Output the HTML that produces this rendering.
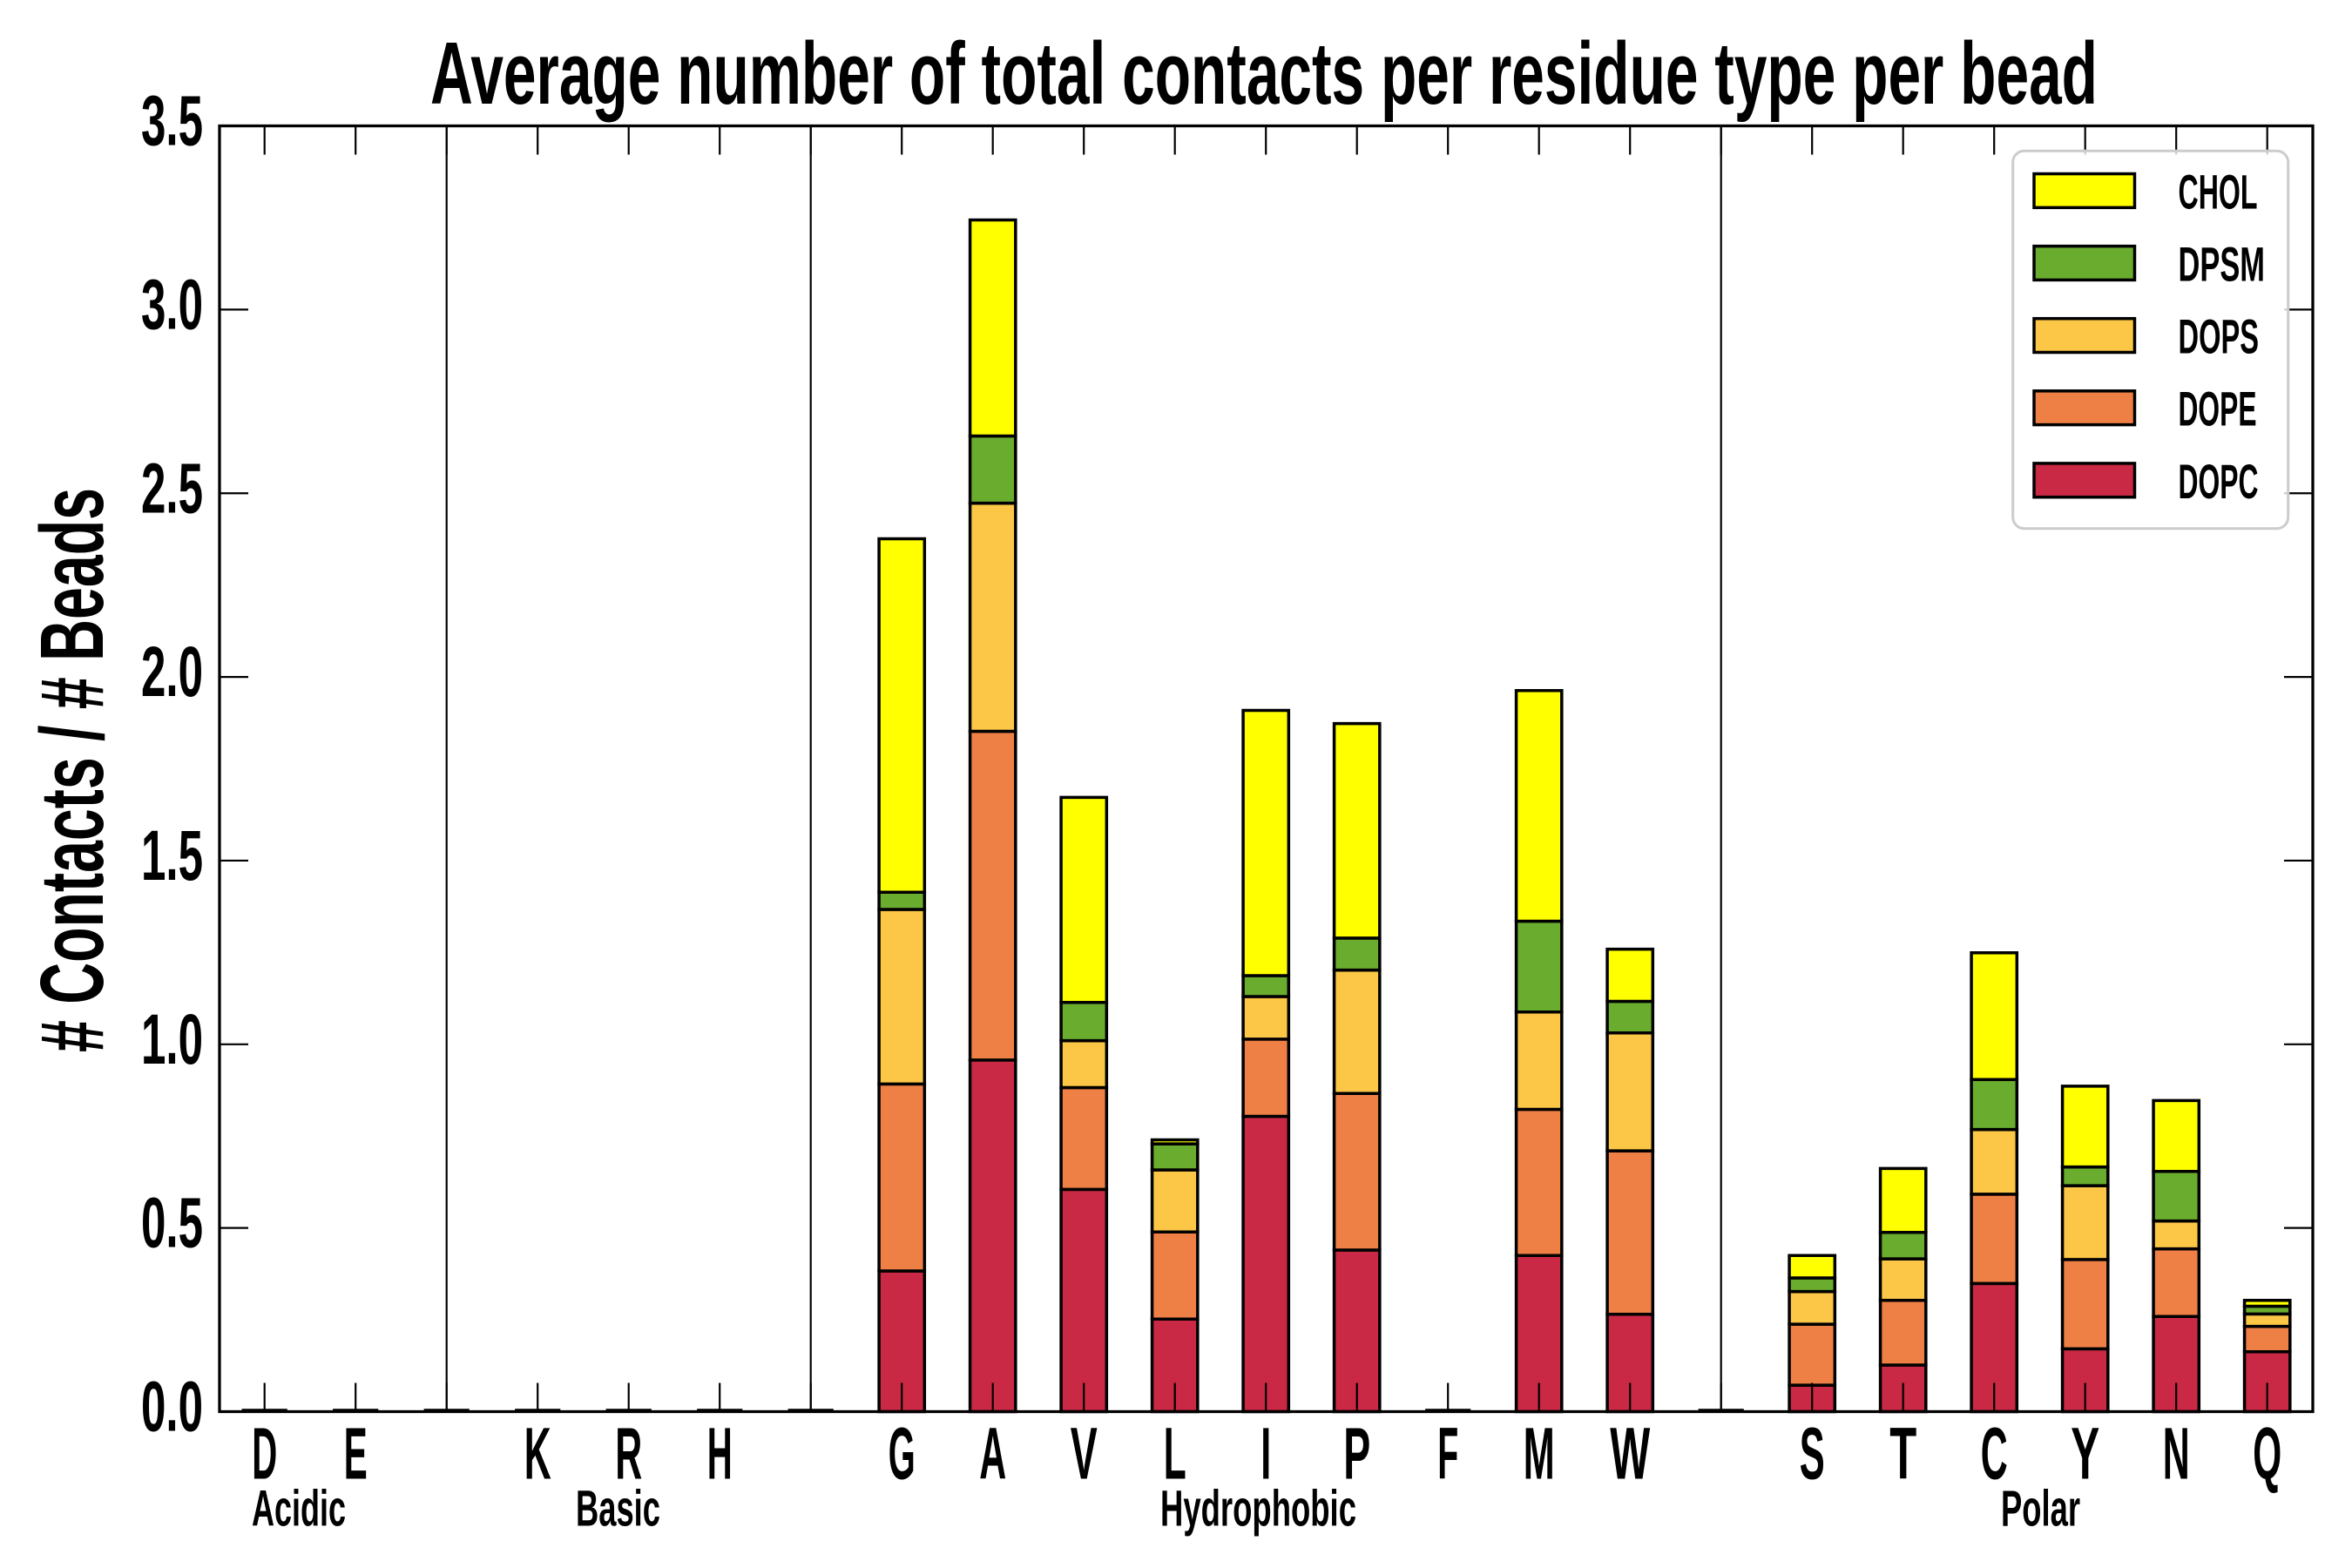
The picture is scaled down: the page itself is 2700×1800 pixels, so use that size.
<!DOCTYPE html>
<html>
<head>
<meta charset="utf-8">
<style>
  html, body { margin: 0; padding: 0; background: #ffffff; }
  svg { display: block; }
  .bars rect { vector-effect: non-scaling-stroke; stroke: #000; stroke-width: 3.5; }
  text { font-family: "Liberation Sans Narrow", "Liberation Sans", sans-serif; font-weight: bold; fill: #000; }
</style>
</head>
<body>
<svg width="2700" height="1800" viewBox="0 0 2700 1800" xmlns="http://www.w3.org/2000/svg">
  <rect x="0" y="0" width="2700" height="1800" fill="#ffffff"/>

  <!-- separators -->
  <g stroke="#000" stroke-width="2.2">
    <line x1="512.7" y1="144.5" x2="512.7" y2="1620.5"/>
    <line x1="930.7" y1="144.5" x2="930.7" y2="1620.5"/>
    <line x1="1975.7" y1="144.5" x2="1975.7" y2="1620.5"/>
  </g>

  <!-- bars (data space) -->
  <g class="bars" transform="translate(303.7 1620.5) scale(104.5 -421.7)">
    <!-- DOPC -->
    <g fill="#c92944">
      <rect x="6.75" y="0" width="0.5" height="0.383"/>
      <rect x="7.75" y="0" width="0.5" height="0.957"/>
      <rect x="8.75" y="0" width="0.5" height="0.605"/>
      <rect x="9.75" y="0" width="0.5" height="0.252"/>
      <rect x="10.75" y="0" width="0.5" height="0.804"/>
      <rect x="11.75" y="0" width="0.5" height="0.440"/>
      <rect x="13.75" y="0" width="0.5" height="0.425"/>
      <rect x="14.75" y="0" width="0.5" height="0.265"/>
      <rect x="16.75" y="0" width="0.5" height="0.072"/>
      <rect x="17.75" y="0" width="0.5" height="0.127"/>
      <rect x="18.75" y="0" width="0.5" height="0.349"/>
      <rect x="19.75" y="0" width="0.5" height="0.171"/>
      <rect x="20.75" y="0" width="0.5" height="0.259"/>
      <rect x="21.75" y="0" width="0.5" height="0.163"/>
    </g>
    <!-- DOPE -->
    <g fill="#ef8045">
      <rect x="6.75" y="0.383" width="0.5" height="0.509"/>
      <rect x="7.75" y="0.957" width="0.5" height="0.895"/>
      <rect x="8.75" y="0.605" width="0.5" height="0.277"/>
      <rect x="9.75" y="0.252" width="0.5" height="0.237"/>
      <rect x="10.75" y="0.804" width="0.5" height="0.210"/>
      <rect x="11.75" y="0.440" width="0.5" height="0.426"/>
      <rect x="13.75" y="0.425" width="0.5" height="0.398"/>
      <rect x="14.75" y="0.265" width="0.5" height="0.445"/>
      <rect x="16.75" y="0.072" width="0.5" height="0.166"/>
      <rect x="17.75" y="0.127" width="0.5" height="0.176"/>
      <rect x="18.75" y="0.349" width="0.5" height="0.243"/>
      <rect x="19.75" y="0.171" width="0.5" height="0.243"/>
      <rect x="20.75" y="0.259" width="0.5" height="0.184"/>
      <rect x="21.75" y="0.163" width="0.5" height="0.069"/>
    </g>
    <!-- DOPS -->
    <g fill="#fcc646">
      <rect x="6.75" y="0.892" width="0.5" height="0.475"/>
      <rect x="7.75" y="1.852" width="0.5" height="0.621"/>
      <rect x="8.75" y="0.882" width="0.5" height="0.128"/>
      <rect x="9.75" y="0.489" width="0.5" height="0.169"/>
      <rect x="10.75" y="1.014" width="0.5" height="0.116"/>
      <rect x="11.75" y="0.866" width="0.5" height="0.336"/>
      <rect x="13.75" y="0.823" width="0.5" height="0.265"/>
      <rect x="14.75" y="0.710" width="0.5" height="0.321"/>
      <rect x="16.75" y="0.238" width="0.5" height="0.089"/>
      <rect x="17.75" y="0.303" width="0.5" height="0.113"/>
      <rect x="18.75" y="0.592" width="0.5" height="0.176"/>
      <rect x="19.75" y="0.414" width="0.5" height="0.201"/>
      <rect x="20.75" y="0.443" width="0.5" height="0.076"/>
      <rect x="21.75" y="0.232" width="0.5" height="0.034"/>
    </g>
    <!-- DPSM -->
    <g fill="#6aac2e">
      <rect x="6.75" y="1.367" width="0.5" height="0.047"/>
      <rect x="7.75" y="2.473" width="0.5" height="0.183"/>
      <rect x="8.75" y="1.010" width="0.5" height="0.104"/>
      <rect x="9.75" y="0.658" width="0.5" height="0.071"/>
      <rect x="10.75" y="1.130" width="0.5" height="0.057"/>
      <rect x="11.75" y="1.202" width="0.5" height="0.087"/>
      <rect x="13.75" y="1.088" width="0.5" height="0.247"/>
      <rect x="14.75" y="1.031" width="0.5" height="0.086"/>
      <rect x="16.75" y="0.327" width="0.5" height="0.037"/>
      <rect x="17.75" y="0.416" width="0.5" height="0.072"/>
      <rect x="18.75" y="0.768" width="0.5" height="0.136"/>
      <rect x="19.75" y="0.615" width="0.5" height="0.051"/>
      <rect x="20.75" y="0.519" width="0.5" height="0.135"/>
      <rect x="21.75" y="0.266" width="0.5" height="0.021"/>
    </g>
    <!-- CHOL -->
    <g fill="#ffff00">
      <rect x="6.75" y="1.414" width="0.5" height="0.962"/>
      <rect x="7.75" y="2.656" width="0.5" height="0.588"/>
      <rect x="8.75" y="1.114" width="0.5" height="0.558"/>
      <rect x="9.75" y="0.729" width="0.5" height="0.011"/>
      <rect x="10.75" y="1.187" width="0.5" height="0.722"/>
      <rect x="11.75" y="1.289" width="0.5" height="0.584"/>
      <rect x="13.75" y="1.335" width="0.5" height="0.628"/>
      <rect x="14.75" y="1.117" width="0.5" height="0.142"/>
      <rect x="16.75" y="0.364" width="0.5" height="0.061"/>
      <rect x="17.75" y="0.488" width="0.5" height="0.174"/>
      <rect x="18.75" y="0.904" width="0.5" height="0.345"/>
      <rect x="19.75" y="0.666" width="0.5" height="0.220"/>
      <rect x="20.75" y="0.654" width="0.5" height="0.193"/>
      <rect x="21.75" y="0.287" width="0.5" height="0.016"/>
    </g>
  </g>

  <!-- zero-height bars -->
  <g stroke="#000" stroke-width="3.5">
    <line x1="277.6" y1="1619" x2="329.8" y2="1619"/>
    <line x1="382.1" y1="1619" x2="434.3" y2="1619"/>
    <line x1="486.6" y1="1619" x2="538.8" y2="1619"/>
    <line x1="591.1" y1="1619" x2="643.3" y2="1619"/>
    <line x1="695.6" y1="1619" x2="747.8" y2="1619"/>
    <line x1="800.1" y1="1619" x2="852.3" y2="1619"/>
    <line x1="904.6" y1="1619" x2="956.8" y2="1619"/>
    <line x1="1636.1" y1="1619" x2="1688.3" y2="1619"/>
    <line x1="1949.6" y1="1619" x2="2001.8" y2="1619"/>
  </g>

  <!-- ticks -->
  <path stroke="#000" stroke-width="2.2" fill="none" d="
    M303.7 1620.5 v-33 M408.2 1620.5 v-33 M512.7 1620.5 v-33 M617.2 1620.5 v-33 M721.7 1620.5 v-33
    M826.2 1620.5 v-33 M930.7 1620.5 v-33 M1035.2 1620.5 v-33 M1139.7 1620.5 v-33 M1244.2 1620.5 v-33
    M1348.7 1620.5 v-33 M1453.2 1620.5 v-33 M1557.7 1620.5 v-33 M1662.2 1620.5 v-33 M1766.7 1620.5 v-33
    M1871.2 1620.5 v-33 M1975.7 1620.5 v-33 M2080.2 1620.5 v-33 M2184.7 1620.5 v-33 M2289.2 1620.5 v-33
    M2393.7 1620.5 v-33 M2498.2 1620.5 v-33 M2602.7 1620.5 v-33
    M303.7 144.5 v33 M408.2 144.5 v33 M512.7 144.5 v33 M617.2 144.5 v33 M721.7 144.5 v33
    M826.2 144.5 v33 M930.7 144.5 v33 M1035.2 144.5 v33 M1139.7 144.5 v33 M1244.2 144.5 v33
    M1348.7 144.5 v33 M1453.2 144.5 v33 M1557.7 144.5 v33 M1662.2 144.5 v33 M1766.7 144.5 v33
    M1871.2 144.5 v33 M1975.7 144.5 v33 M2080.2 144.5 v33 M2184.7 144.5 v33 M2289.2 144.5 v33
    M2393.7 144.5 v33 M2498.2 144.5 v33 M2602.7 144.5 v33
    M252 1409.65 h33 M252 1198.8 h33 M252 987.95 h33 M252 777.1 h33 M252 566.25 h33 M252 355.4 h33
    M2655 1409.65 h-33 M2655 1198.8 h-33 M2655 987.95 h-33 M2655 777.1 h-33 M2655 566.25 h-33 M2655 355.4 h-33
  "/>

  <!-- legend -->
  <rect x="2310.7" y="173.3" width="316" height="433.4" rx="13" ry="13" fill="#ffffff" fill-opacity="0.8" stroke="#cccccc" stroke-width="3"/>
  <g stroke="#000" stroke-width="3.5">
    <rect x="2335" y="199.5" width="115.5" height="38.8" fill="#ffff00"/>
    <rect x="2335" y="282.6" width="115.5" height="38.8" fill="#6aac2e"/>
    <rect x="2335" y="365.7" width="115.5" height="38.8" fill="#fcc646"/>
    <rect x="2335" y="448.8" width="115.5" height="38.8" fill="#ef8045"/>
    <rect x="2335" y="531.9" width="115.5" height="38.8" fill="#c92944"/>
  </g>
  <g font-size="56">
    <text x="2500.5" y="239.4" textLength="91" lengthAdjust="spacingAndGlyphs">CHOL</text>
    <text x="2500.5" y="322.5" textLength="99.5" lengthAdjust="spacingAndGlyphs">DPSM</text>
    <text x="2500.5" y="405.6" textLength="92.5" lengthAdjust="spacingAndGlyphs">DOPS</text>
    <text x="2500.5" y="488.7" textLength="90" lengthAdjust="spacingAndGlyphs">DOPE</text>
    <text x="2500.5" y="571.8" textLength="92" lengthAdjust="spacingAndGlyphs">DOPC</text>
  </g>

  <!-- spines -->
  <rect x="252" y="144.5" width="2403" height="1476" fill="none" stroke="#000" stroke-width="3.3"/>

  <!-- y tick labels -->
  <g font-size="82">
    <text x="162" y="1642.5" textLength="71" lengthAdjust="spacingAndGlyphs">0.0</text>
    <text x="162" y="1431.65" textLength="71" lengthAdjust="spacingAndGlyphs">0.5</text>
    <text x="162" y="1220.8" textLength="71" lengthAdjust="spacingAndGlyphs">1.0</text>
    <text x="162" y="1009.95" textLength="71" lengthAdjust="spacingAndGlyphs">1.5</text>
    <text x="162" y="799.1" textLength="71" lengthAdjust="spacingAndGlyphs">2.0</text>
    <text x="162" y="588.25" textLength="71" lengthAdjust="spacingAndGlyphs">2.5</text>
    <text x="162" y="377.4" textLength="71" lengthAdjust="spacingAndGlyphs">3.0</text>
    <text x="162" y="166.55" textLength="71" lengthAdjust="spacingAndGlyphs">3.5</text>
  </g>

  <!-- x tick labels -->
  <g font-size="84">
    <text x="289.2" y="1697.7" textLength="29" lengthAdjust="spacingAndGlyphs">D</text>
    <text x="394.7" y="1697.7" textLength="27" lengthAdjust="spacingAndGlyphs">E</text>
    <text x="601.7" y="1697.7" textLength="31" lengthAdjust="spacingAndGlyphs">K</text>
    <text x="706.2" y="1697.7" textLength="31" lengthAdjust="spacingAndGlyphs">R</text>
    <text x="811.7" y="1697.7" textLength="29" lengthAdjust="spacingAndGlyphs">H</text>
    <text x="1019.7" y="1697.7" textLength="31" lengthAdjust="spacingAndGlyphs">G</text>
    <text x="1124.2" y="1697.7" textLength="31" lengthAdjust="spacingAndGlyphs">A</text>
    <text x="1228.7" y="1697.7" textLength="31" lengthAdjust="spacingAndGlyphs">V</text>
    <text x="1335.7" y="1697.7" textLength="26" lengthAdjust="spacingAndGlyphs">L</text>
    <text x="1447.2" y="1697.7" textLength="12" lengthAdjust="spacingAndGlyphs">I</text>
    <text x="1542.2" y="1697.7" textLength="31" lengthAdjust="spacingAndGlyphs">P</text>
    <text x="1650.2" y="1697.7" textLength="24" lengthAdjust="spacingAndGlyphs">F</text>
    <text x="1748.7" y="1697.7" textLength="36" lengthAdjust="spacingAndGlyphs">M</text>
    <text x="1848.2" y="1697.7" textLength="46" lengthAdjust="spacingAndGlyphs">W</text>
    <text x="2065.7" y="1697.7" textLength="29" lengthAdjust="spacingAndGlyphs">S</text>
    <text x="2169.2" y="1697.7" textLength="31" lengthAdjust="spacingAndGlyphs">T</text>
    <text x="2273.7" y="1697.7" textLength="31" lengthAdjust="spacingAndGlyphs">C</text>
    <text x="2377.2" y="1697.7" textLength="33" lengthAdjust="spacingAndGlyphs">Y</text>
    <text x="2482.7" y="1697.7" textLength="31" lengthAdjust="spacingAndGlyphs">N</text>
    <text x="2586.2" y="1697.7" textLength="33" lengthAdjust="spacingAndGlyphs">Q</text>
  </g>

  <!-- group labels -->
  <g font-size="58">
    <text x="289" y="1751.7" textLength="108" lengthAdjust="spacingAndGlyphs">Acidic</text>
    <text x="661" y="1751.7" textLength="97" lengthAdjust="spacingAndGlyphs">Basic</text>
    <text x="1332" y="1751.7" textLength="225" lengthAdjust="spacingAndGlyphs">Hydrophobic</text>
    <text x="2297" y="1751.7" textLength="91" lengthAdjust="spacingAndGlyphs">Polar</text>
  </g>

  <!-- title -->
  <text x="494" y="119" font-size="101" textLength="1914" lengthAdjust="spacingAndGlyphs">Average number of total contacts per residue type per bead</text>

  <!-- y label -->
  <g transform="translate(118 1208) rotate(-90)">
    <text x="0" y="0" font-size="103" textLength="648" lengthAdjust="spacingAndGlyphs"># Contacts / # Beads</text>
  </g>
</svg>
</body>
</html>
